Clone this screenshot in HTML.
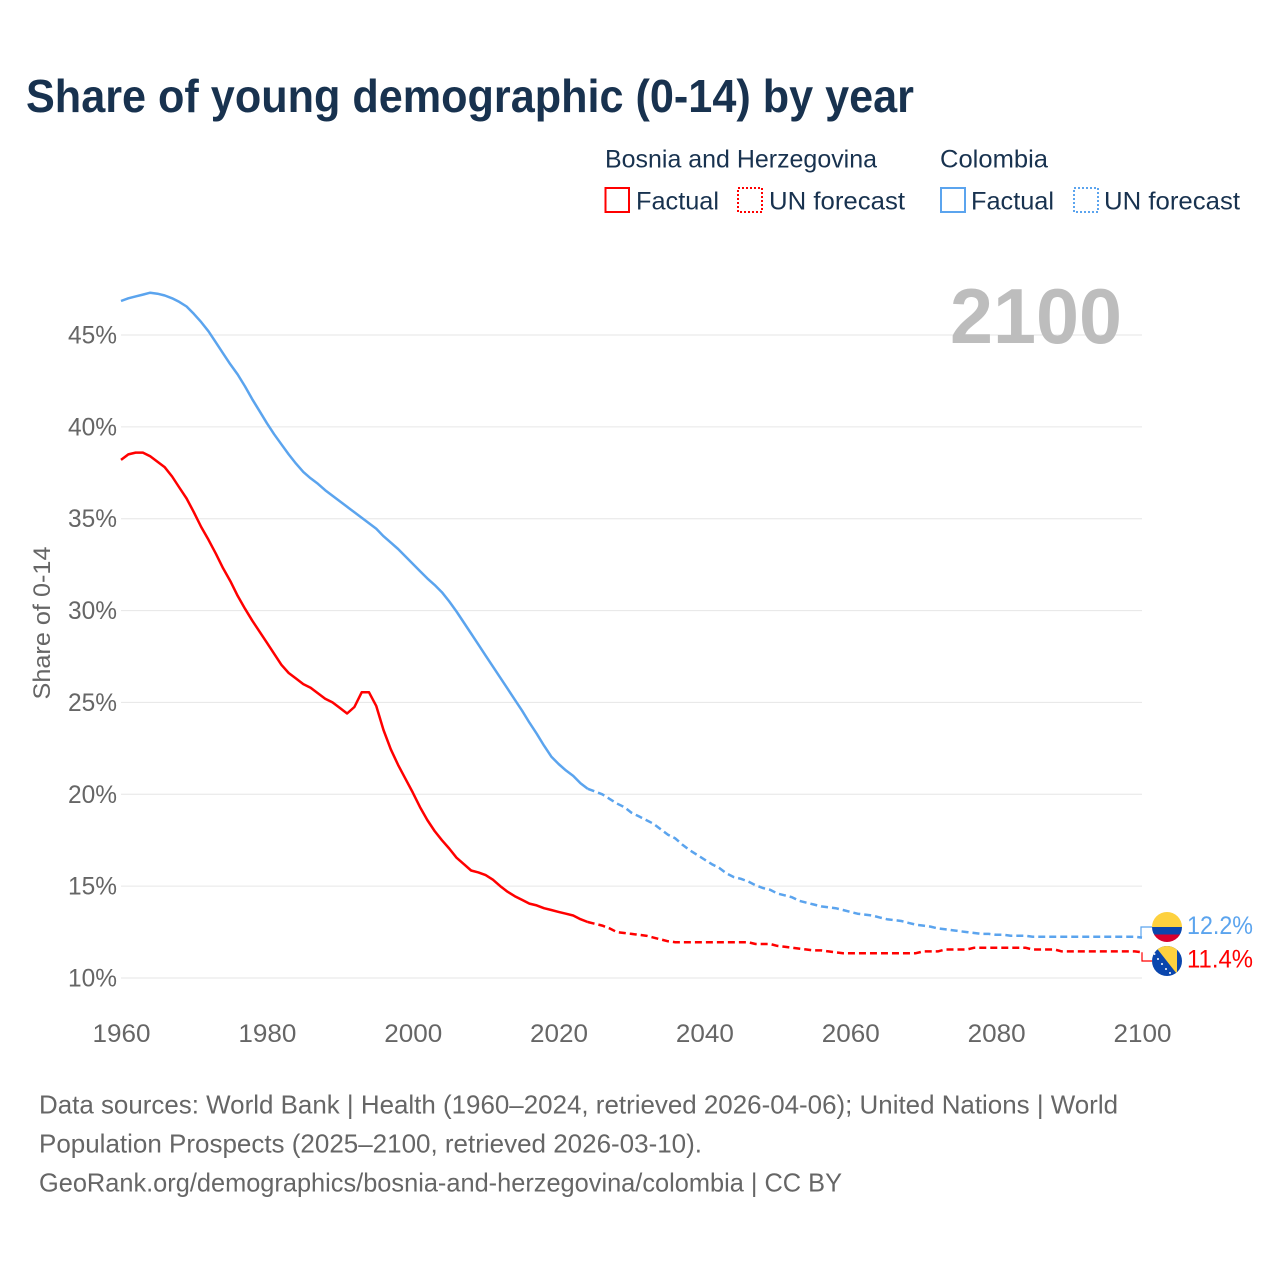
<!DOCTYPE html>
<html lang="en">
<head>
<meta charset="utf-8">
<title>Share of young demographic (0-14) by year</title>
<style>
html,body{margin:0;padding:0;background:#fff;width:1280px;height:1280px;overflow:hidden}
svg{display:block;font-family:"Liberation Sans",sans-serif}
</style>
</head>
<body>
<svg id="chart" width="1280" height="1280" viewBox="0 0 1280 1280">
<defs>
<clipPath id="flag-co-clip"><circle cx="1167" cy="927" r="15"/></clipPath>
<clipPath id="flag-ba-clip"><circle cx="1167" cy="961" r="15"/></clipPath>
</defs>
<rect width="1280" height="1280" fill="#fff"/>
<text x="26" y="112" font-size="46" font-weight="700" fill="#18324f" textLength="888" lengthAdjust="spacingAndGlyphs">Share of young demographic (0-14) by year</text>

<g>
<text x="605" y="167.5" font-size="25" fill="#18324f" textLength="272" lengthAdjust="spacingAndGlyphs">Bosnia and Herzegovina</text>
<text x="940" y="167.5" font-size="25" fill="#18324f" textLength="108" lengthAdjust="spacingAndGlyphs">Colombia</text>
<rect x="605.5" y="188" width="23.5" height="24" fill="#fff" stroke="#ff0000" stroke-width="2"/>
<text x="636" y="209.5" font-size="25" fill="#18324f" textLength="83" lengthAdjust="spacingAndGlyphs">Factual</text>
<rect x="738" y="188" width="24" height="24" fill="#fff" stroke="#ff0000" stroke-width="2" stroke-dasharray="2 2"/>
<text x="769" y="209.5" font-size="25" fill="#18324f" textLength="136" lengthAdjust="spacingAndGlyphs">UN forecast</text>
<rect x="941" y="188" width="24" height="24" fill="#fff" stroke="#5ba4ee" stroke-width="2"/>
<text x="971" y="209.5" font-size="25" fill="#18324f" textLength="83" lengthAdjust="spacingAndGlyphs">Factual</text>
<rect x="1074" y="188" width="24" height="24" fill="#fff" stroke="#5ba4ee" stroke-width="2" stroke-dasharray="2 2"/>
<text x="1104" y="209.5" font-size="25" fill="#18324f" textLength="136" lengthAdjust="spacingAndGlyphs">UN forecast</text>
</g>

<g id="grid"></g>
<g id="yticks"></g>
<g id="xticks"></g>
<text x="1122" y="343" text-anchor="end" font-size="78" font-weight="700" fill="#bdbdbd" textLength="172" lengthAdjust="spacingAndGlyphs">2100</text>
<text transform="translate(50,623) rotate(-90)" text-anchor="middle" font-size="24" fill="#666" textLength="153" lengthAdjust="spacingAndGlyphs">Share of 0-14</text>
<g id="series"></g>

<g>
<polyline id="co-connector" fill="none" stroke="#5ba4ee" stroke-width="1.2"/>
<polyline id="ba-connector" fill="none" stroke="#ff0000" stroke-width="1.2"/>
<g clip-path="url(#flag-co-clip)">
<rect x="1152" y="912" width="30" height="15" fill="#fdd13f"/>
<rect x="1152" y="927" width="30" height="7.5" fill="#0a46ad"/>
<rect x="1152" y="934.5" width="30" height="7.5" fill="#d8002c"/>
</g>
<g clip-path="url(#flag-ba-clip)">
<rect x="1152" y="946" width="30" height="30" fill="#0a46ad"/>
<polygon points="1155,946 1177,946 1177,974" fill="#fdd13f"/>
<g fill="#fff">
<circle cx="1154.5" cy="954" r="1"/><circle cx="1158" cy="959" r="1"/><circle cx="1162" cy="964" r="1"/><circle cx="1166" cy="969" r="1"/><circle cx="1170" cy="973" r="1"/>
</g>
</g>
<text x="1187" y="934" font-size="25" fill="#5ba4ee" textLength="66" lengthAdjust="spacingAndGlyphs">12.2%</text>
<text x="1187" y="967.5" font-size="25" fill="#ff0000" textLength="66" lengthAdjust="spacingAndGlyphs">11.4%</text>
</g>

<g fill="#666" font-size="26">
<text x="39" y="1113.5" textLength="1079" lengthAdjust="spacingAndGlyphs">Data sources: World Bank | Health (1960–2024, retrieved 2026-04-06); United Nations | World</text>
<text x="39" y="1152.5" textLength="663" lengthAdjust="spacingAndGlyphs">Population Prospects (2025–2100, retrieved 2026-03-10).</text>
<text x="39" y="1191.5" textLength="803" lengthAdjust="spacingAndGlyphs">GeoRank.org/demographics/bosnia-and-herzegovina/colombia | CC BY</text>
</g>
</svg>
<script>
const yTicks = [10, 15, 20, 25, 30, 35, 40, 45];
const xTicks = [1960, 1980, 2000, 2020, 2040, 2060, 2080, 2100];
const factualStart = 1960;
const forecastStart = 2024;
const bosniaFactual = [38.2,38.5,38.6,38.6,38.4,38.1,37.8,37.3,36.7,36.1,35.35,34.55,33.85,33.1,32.3,31.6,30.8,30.1,29.45,28.85,28.25,27.65,27.05,26.6,26.3,26.0,25.8,25.5,25.2,25.0,24.7,24.4,24.75,25.55,25.55,24.8,23.5,22.45,21.6,20.85,20.1,19.3,18.6,18.0,17.5,17.05,16.55,16.2,15.85,15.75,15.6,15.35,15.0,14.7,14.45,14.25,14.05,13.95,13.8,13.7,13.6,13.5,13.4,13.2,13.05];
const bosniaForecast = [13.05,12.95,12.85,12.7,12.5,12.45,12.4,12.35,12.3,12.2,12.1,12.0,11.95,11.95,11.95,11.95,11.95,11.95,11.95,11.95,11.95,11.95,11.95,11.85,11.85,11.85,11.75,11.7,11.65,11.6,11.55,11.5,11.5,11.45,11.4,11.35,11.35,11.35,11.35,11.35,11.35,11.35,11.35,11.35,11.35,11.35,11.45,11.45,11.45,11.55,11.55,11.55,11.55,11.65,11.65,11.65,11.65,11.65,11.65,11.65,11.65,11.55,11.55,11.55,11.55,11.45,11.45,11.45,11.45,11.45,11.45,11.45,11.45,11.45,11.45,11.45,11.4];
const colombiaFactual = [46.85,47.0,47.1,47.2,47.3,47.25,47.15,47.0,46.8,46.55,46.15,45.7,45.2,44.6,44.0,43.4,42.85,42.2,41.5,40.85,40.2,39.6,39.05,38.5,38.0,37.55,37.2,36.9,36.55,36.25,35.95,35.65,35.35,35.05,34.75,34.45,34.05,33.7,33.35,32.95,32.55,32.15,31.75,31.4,31.0,30.5,29.95,29.35,28.75,28.15,27.55,26.95,26.35,25.75,25.15,24.55,23.9,23.3,22.65,22.05,21.65,21.3,21.0,20.6,20.3];
const colombiaForecast = [20.3,20.15,20.0,19.75,19.5,19.3,19.0,18.8,18.6,18.4,18.1,17.8,17.6,17.25,16.95,16.7,16.45,16.2,16.0,15.7,15.5,15.4,15.25,15.05,14.9,14.8,14.6,14.5,14.4,14.2,14.1,14.0,13.9,13.85,13.8,13.7,13.6,13.5,13.45,13.4,13.3,13.2,13.15,13.1,13.0,12.9,12.85,12.8,12.7,12.65,12.6,12.55,12.5,12.45,12.4,12.4,12.35,12.35,12.3,12.3,12.3,12.25,12.25,12.25,12.25,12.25,12.25,12.25,12.25,12.25,12.25,12.25,12.25,12.25,12.25,12.25,12.2];

const NS = 'http://www.w3.org/2000/svg';
function xScale(year) { return 121 + (year - 1960) * (1142 - 121) / 140; }
function yScale(value) { return 978 - (value - 10) * (978 - 335) / 35; }
function pathFor(values, start) {
  return values.map(function (v, i) {
    return xScale(start + i).toFixed(1) + ',' + yScale(v).toFixed(1);
  }).join(' ');
}

const gridGroup = document.getElementById('grid');
const yGroup = document.getElementById('yticks');
const xGroup = document.getElementById('xticks');
const seriesGroup = document.getElementById('series');

yTicks.forEach(function (t) {
  const line = document.createElementNS(NS, 'line');
  
  
  line.setAttribute('x1', xScale(1960));
  line.setAttribute('x2', xScale(2100));
  line.setAttribute('y1', yScale(t));
  line.setAttribute('y2', yScale(t));
  line.setAttribute('stroke', '#e6e6e6');
  line.setAttribute('stroke-width', '1');
  gridGroup.appendChild(line);
  const label = document.createElementNS(NS, 'text');
  
  
  label.setAttribute('x', 117);
  label.setAttribute('y', yScale(t) + 8.5);
  label.setAttribute('text-anchor', 'end');
  label.setAttribute('font-size', '25');
  label.setAttribute('fill', '#666');
  label.setAttribute('textLength', '49');
  label.setAttribute('lengthAdjust', 'spacingAndGlyphs');
  label.textContent = t + '%';
  yGroup.appendChild(label);
});

xTicks.forEach(function (t) {
  const label = document.createElementNS(NS, 'text');
  
  
  label.setAttribute('x', xScale(t) + 0.5);
  label.setAttribute('y', 1042);
  label.setAttribute('text-anchor', 'middle');
  label.setAttribute('font-size', '25');
  label.setAttribute('fill', '#666');
  label.setAttribute('textLength', '58');
  label.setAttribute('lengthAdjust', 'spacingAndGlyphs');
  label.textContent = t;
  xGroup.appendChild(label);
});

function addLine(values, start, color, dashed, name) {
  const line = document.createElementNS(NS, 'polyline');
  
  
  line.setAttribute('points', pathFor(values, start));
  line.setAttribute('fill', 'none');
  line.setAttribute('stroke', color);
  line.setAttribute('stroke-width', '2.5');
  line.setAttribute('stroke-linejoin', 'round');
  if (dashed) line.setAttribute('stroke-dasharray', '7 4');
  seriesGroup.appendChild(line);
}

addLine(colombiaForecast, forecastStart, '#5ba4ee', true, 'colombia-forecast-line');
addLine(bosniaForecast, forecastStart, '#ff0000', true, 'bosnia-forecast-line');
addLine(colombiaFactual, factualStart, '#5ba4ee', false, 'colombia-factual-line');
addLine(bosniaFactual, factualStart, '#ff0000', false, 'bosnia-factual-line');

const coEnd = yScale(colombiaForecast[colombiaForecast.length - 1]);
const baEnd = yScale(bosniaForecast[bosniaForecast.length - 1]);
document.getElementById('co-connector').setAttribute('points', '1141,' + coEnd + ' 1141,927 1152,927');
document.getElementById('ba-connector').setAttribute('points', '1142,' + baEnd + ' 1142,961 1152,961');
</script>
</body>
</html>
